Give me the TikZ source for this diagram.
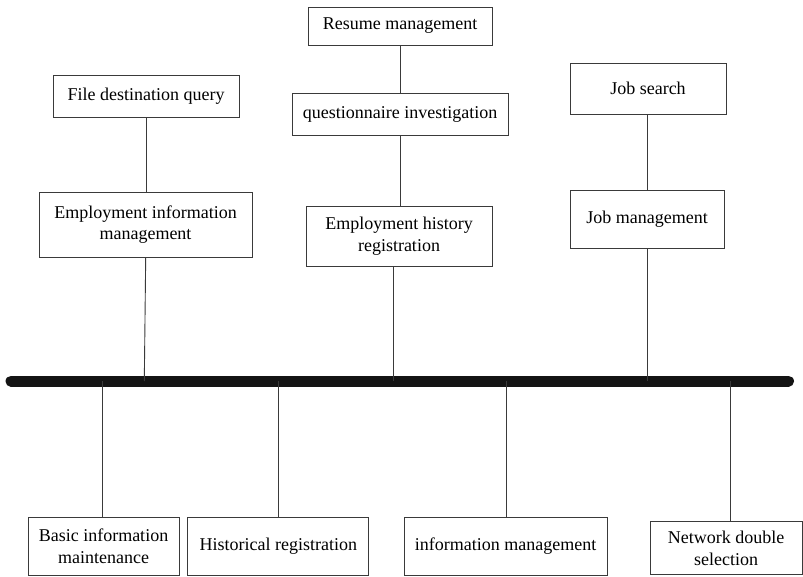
\documentclass[tikz,border=0pt]{standalone}
\usepackage{fontspec}
\setmainfont{Liberation Serif}
\definecolor{ink}{HTML}{141414}
\definecolor{edge}{HTML}{3A3A3A}
\begin{document}
\begin{tikzpicture}[x=1pt,y=-1pt,
  box/.style={draw=edge, line width=0.9pt, rectangle, align=center, text=black,
    font=\fontsize{18}{21.5}\selectfont, inner sep=0pt},
  link/.style={draw=edge, line width=0.9pt},
  spine/.style={draw=ink, line width=11pt, line cap=round}]
\useasboundingbox (0,0) rectangle (803,576);

% upper branches
\node[box, minimum width=184pt, minimum height=38pt] (resume) at (400,26) {Resume management};
\node[box, minimum width=186pt, minimum height=42pt] (file) at (146,96) {File destination query};
\node[box, minimum width=216pt, minimum height=42pt] (quest) at (400,114) {questionnaire investigation};
\node[box, minimum width=156pt, minimum height=51pt] (jobsearch) at (648,88.5) {Job search};
\node[box, minimum width=213pt, minimum height=65pt] (empinfo) at (145.5,224.5) {Employment information\\management};
\node[box, minimum width=186pt, minimum height=60pt] (emphist) at (399,236) {Employment history\\registration};
\node[box, minimum width=154pt, minimum height=58pt] (jobmgmt) at (647,219) {Job management};

% lower branches
\node[box, minimum width=151pt, minimum height=58pt] (basic) at (103.5,546) {Basic information\\maintenance};
\node[box, minimum width=181pt, minimum height=58pt] (hist) at (278.3,546) {Historical registration};
\node[box, minimum width=203pt, minimum height=58pt] (infomgmt) at (505.5,546) {information management};
\node[box, minimum width=152pt, minimum height=53pt] (network) at (726,548.3) {Network double\\selection};

% main spine (round caps add half the width at each end)
\coordinate (sl) at (11,381);
\coordinate (sr) at (788.5,381);
\draw[spine] (sl) -- (sr);

% attachment points on the spine
\coordinate (s1) at (144.3,381);
\coordinate (s2) at (393,381);
\coordinate (s3) at (647,381);
\coordinate (b1) at (102,381);
\coordinate (b2) at (278.3,381);
\coordinate (b3) at (506,381);
\coordinate (b4) at (730,381);

% connectors above the spine
\draw[link] (file.south) -- (file.south |- empinfo.north);
\draw[link] ([xshift=0.2pt]empinfo.south) -- (s1);
\draw[link] (resume.south) -- (quest.north);
\draw[link] (quest.south) -- (quest.south |- emphist.north);
\draw[link] (emphist.south -| s2) -- (s2);
\draw[link] (jobsearch.south -| jobmgmt.north) -- (jobmgmt.north);
\draw[link] (jobmgmt.south) -- (s3);

% connectors below the spine
\draw[link] (b1) -- (b1 |- basic.north);
\draw[link] (b2) -- (b2 |- hist.north);
\draw[link] (b3) -- (b3 |- infomgmt.north);
\draw[link] (b4) -- (b4 |- network.north);
\end{tikzpicture}
\end{document}
